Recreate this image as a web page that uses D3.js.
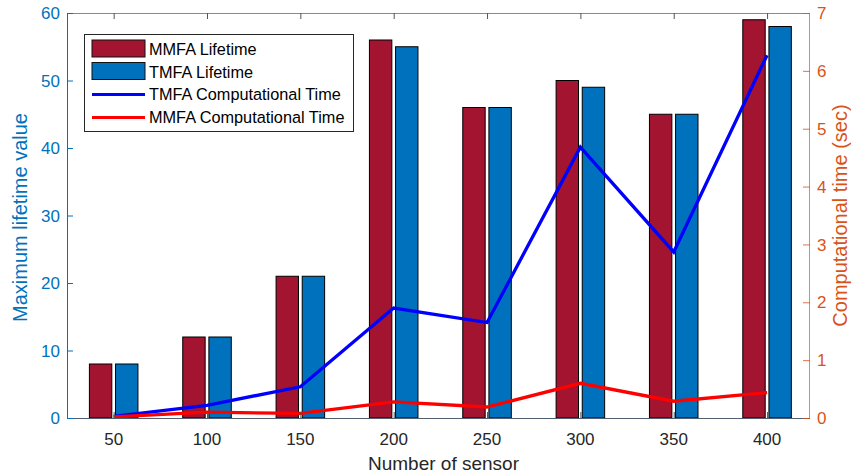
<!DOCTYPE html>
<html>
<head>
<meta charset="utf-8">
<script src="https://cdn.jsdelivr.net/npm/d3@7"></script>
<style>
  body { margin: 0; background: #fff; }
  svg { font-family: "Liberation Sans", Arial, Helvetica, sans-serif; }
</style>
</head>
<body>
<div id="chart"></div>
<script>
// chart values
var sensors = [50, 100, 150, 200, 250, 300, 350, 400];
var mmfaLifetime = [8, 12, 21, 56, 46, 50, 45, 59];
var tmfaLifetime = [8, 12, 21, 55, 46, 49, 45, 58];
var tmfaTime = [0.03, 0.22, 0.54, 1.90, 1.65, 4.68, 2.87, 6.27];
var mmfaTime = [0.02, 0.10, 0.08, 0.28, 0.19, 0.60, 0.29, 0.44];
var leftTicks = [0, 10, 20, 30, 40, 50, 60];
var rightTicks = [0, 1, 2, 3, 4, 5, 6, 7];

var W = 858, H = 475;
var margin = { top: 13, right: 48, bottom: 57, left: 67 };
var width = W - margin.left - margin.right,
    height = H - margin.top - margin.bottom;

var blueAxis = "#0072BD", orangeAxis = "#D95319", dark = "#262626";
var mmfaColor = "#A2142F", tmfaColor = "#0072BD";

var x = d3.scaleLinear().domain([25, 423]).range([0, width]);
var yL = d3.scaleLinear().domain([0, 60]).range([height, 0]);
var yR = d3.scaleLinear().domain([0, 7]).range([height, 0]);

var barW = 12, barOff = 7;   // in sensor units

var svg = d3.select("#chart").append("svg")
  .attr("width", W)
  .attr("height", H)
  .append("g")
  .attr("transform", "translate(" + margin.left + "," + margin.top + ")");

// bars
var groups = sensors.map(function(s, i) {
  return { s: s, mmfa: mmfaLifetime[i], tmfa: tmfaLifetime[i] };
});

svg.selectAll(".barM").data(groups).enter().append("rect")
  .attr("x", function(d) { return x(d.s - barOff - barW / 2); })
  .attr("width", function(d) { return x(barW) - x(0); })
  .attr("y", function(d) { return yL(d.mmfa); })
  .attr("height", function(d) { return yL(0) - yL(d.mmfa); })
  .attr("fill", mmfaColor)
  .attr("stroke", "#000")
  .attr("stroke-width", 1);

svg.selectAll(".barT").data(groups).enter().append("rect")
  .attr("x", function(d) { return x(d.s + barOff - barW / 2); })
  .attr("width", function(d) { return x(barW) - x(0); })
  .attr("y", function(d) { return yL(d.tmfa); })
  .attr("height", function(d) { return yL(0) - yL(d.tmfa); })
  .attr("fill", tmfaColor)
  .attr("stroke", "#000")
  .attr("stroke-width", 1);

// lines on the right axis
var line = d3.line()
  .x(function(d) { return x(d[0]); })
  .y(function(d) { return yR(d[1]); });

svg.append("path")
  .datum(d3.zip(sensors, tmfaTime))
  .attr("d", line)
  .attr("fill", "none")
  .attr("stroke", "#0000FF")
  .attr("stroke-width", 3.3);

svg.append("path")
  .datum(d3.zip(sensors, mmfaTime))
  .attr("d", line)
  .attr("fill", "none")
  .attr("stroke", "#FF0000")
  .attr("stroke-width", 3.3);

// axes
var fs = "17px";

// top (box) axis
var topAxis = svg.append("g")
  .call(d3.axisBottom(x).tickValues(sensors).tickSize(6).tickFormat(""));
topAxis.select(".domain").attr("stroke", "#8a8a8a").attr("d", "M0,0.5H" + width);
topAxis.selectAll(".tick line").attr("stroke", "#555");

// bottom axis, ticks pointing up
var bottomAxis = svg.append("g")
  .attr("transform", "translate(0," + height + ")")
  .call(d3.axisTop(x).tickValues(sensors).tickSize(6).tickFormat(""));
bottomAxis.select(".domain").attr("stroke", "#4f5f6f").attr("d", "M0,0.5H" + width);
bottomAxis.selectAll(".tick line").attr("stroke", "#555");

svg.append("g").selectAll("text").data(sensors).enter().append("text")
  .attr("x", function(d) { return x(d); })
  .attr("y", height + 27)
  .attr("text-anchor", "middle")
  .attr("font-size", fs)
  .attr("fill", dark)
  .text(function(d) { return d; });

// left axis
var leftAxis = svg.append("g")
  .call(d3.axisRight(yL).tickValues(leftTicks).tickSize(6).tickFormat(""));
leftAxis.select(".domain").attr("stroke", blueAxis).attr("d", "M0.5,0V" + height);
leftAxis.selectAll(".tick line").attr("stroke", blueAxis);

svg.append("g").selectAll("text").data(leftTicks).enter().append("text")
  .attr("x", -7)
  .attr("y", function(d) { return yL(d); })
  .attr("dy", "0.36em")
  .attr("text-anchor", "end")
  .attr("font-size", fs)
  .attr("fill", blueAxis)
  .text(function(d) { return d; });

// right axis
var rightAxis = svg.append("g")
  .attr("transform", "translate(" + width + ",0)")
  .call(d3.axisLeft(yR).tickValues(rightTicks).tickSize(7).tickFormat(""));
rightAxis.select(".domain").attr("stroke", orangeAxis).attr("stroke-opacity", 0.7).attr("d", "M-0.5,0V" + height);
rightAxis.selectAll(".tick line").attr("stroke", orangeAxis).attr("stroke-opacity", 0.8);

svg.append("g").selectAll("text").data(rightTicks).enter().append("text")
  .attr("x", width + 7)
  .attr("y", function(d) { return yR(d); })
  .attr("dy", "0.36em")
  .attr("text-anchor", "start")
  .attr("font-size", fs)
  .attr("fill", orangeAxis)
  .text(function(d) { return d; });

// axis titles
svg.append("text")
  .attr("x", width / 2 + 5)
  .attr("y", height + 52)
  .attr("text-anchor", "middle")
  .attr("font-size", "19px")
  .attr("fill", dark)
  .text("Number of sensor");

svg.append("text")
  .attr("transform", "translate(" + (-40) + "," + (height / 2 + 2) + ") rotate(-90)")
  .attr("text-anchor", "middle")
  .attr("font-size", "20px")
  .attr("fill", blueAxis)
  .text("Maximum lifetime value");

svg.append("text")
  .attr("transform", "translate(" + (width + 37) + "," + (height / 2) + ") rotate(-90)")
  .attr("text-anchor", "middle")
  .attr("font-size", "20px")
  .attr("fill", orangeAxis)
  .text("Computational time (sec)");

// legend
var legendItems = [
  { label: "MMFA Lifetime", type: "bar", color: mmfaColor },
  { label: "TMFA Lifetime", type: "bar", color: tmfaColor },
  { label: "TMFA Computational Time", type: "line", color: "#0000FF" },
  { label: "MMFA Computational Time", type: "line", color: "#FF0000" }
];

var legend = svg.append("g").attr("transform", "translate(17.5,21.5)");
legend.append("rect")
  .attr("width", 269)
  .attr("height", 97)
  .attr("fill", "#fff")
  .attr("stroke", dark)
  .attr("stroke-width", 1);

var rowY = [15, 37.5, 60, 83];
legendItems.forEach(function(item, i) {
  var g = legend.append("g").attr("transform", "translate(0," + rowY[i] + ")");
  if (item.type == "bar") {
    g.append("rect")
      .attr("x", 7.5).attr("y", -9.5)
      .attr("width", 53).attr("height", 17)
      .attr("fill", item.color)
      .attr("stroke", "#111")
      .attr("stroke-width", 1);
  } else {
    g.append("line")
      .attr("x1", 7.5).attr("x2", 60.5)
      .attr("y1", 0).attr("y2", 0)
      .attr("stroke", item.color)
      .attr("stroke-width", 3);
  }
  g.append("text")
    .attr("x", 64.5)
    .attr("y", 0)
    .attr("dy", "0.36em")
    .attr("font-size", "16.3px")
    .attr("fill", "#000")
    .text(item.label);
});
</script>
</body>
</html>
